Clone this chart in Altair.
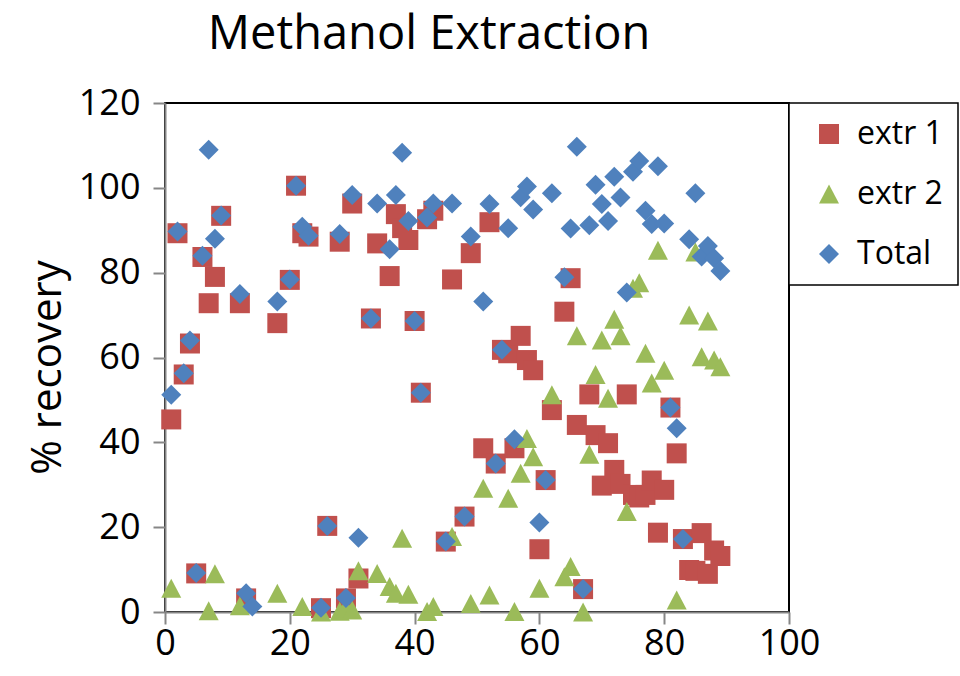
import altair as alt
import pandas as pd

# Recovery (%) per sample number, one set of arrays per series
extr1_x = [1, 2, 3, 4, 5, 6, 7, 8, 9, 12, 13, 18, 20, 21, 22, 23, 25, 26, 28, 29, 30, 31,
           33, 34, 36, 37, 38, 39, 40, 41, 42, 43, 45, 46, 48, 49, 51, 52, 53, 54, 55, 56,
           57, 58, 59, 60, 61, 62, 64, 65, 66, 67, 68, 69, 70, 71, 72, 73, 74, 75, 76, 77,
           78, 79, 80, 81, 82, 83, 84, 85, 86, 87, 88, 89]
extr1_y = [45.4, 89.3, 56.0, 63.3, 9.1, 83.7, 72.8, 79.0, 93.4, 72.8, 3.2, 68.1, 78.3, 100.5,
           89.3, 88.5, 0.9, 20.3, 87.3, 3.2, 96.3, 7.9, 69.2, 86.9, 79.2, 93.8, 90.5, 87.7,
           68.6, 51.7, 92.6, 94.6, 16.6, 78.4, 22.5, 84.6, 38.6, 91.9, 35.0, 61.8, 61.0, 38.6,
           65.1, 59.4, 57.0, 14.8, 31.1, 47.6, 70.8, 78.7, 44.1, 5.4, 51.3, 41.7, 29.8, 39.8,
           33.5, 30.2, 51.3, 27.6, 27.0, 27.6, 31.0, 18.7, 28.8, 48.2, 37.4, 17.2, 9.9, 9.7,
           18.6, 9.0, 14.5, 13.2]

extr2_x = [1, 7, 8, 12, 18, 22, 25, 28, 29, 30, 31, 34, 36, 37, 38, 39, 42, 43, 46, 49, 51,
           52, 55, 56, 57, 58, 59, 60, 62, 64, 65, 66, 67, 68, 69, 70, 71, 72, 73, 74, 75, 76,
           77, 78, 79, 80, 82, 84, 85, 86, 87, 88, 89]
extr2_y = [5.6, 0.3, 9.0, 1.5, 4.4, 1.3, 0.0, 0.2, 1.0, 0.5, 9.7, 9.1, 6.0, 4.4, 17.4, 4.2,
           0.1, 1.3, 17.8, 2.0, 29.2, 4.0, 26.8, 0.1, 32.7, 40.9, 36.6, 5.6, 51.2, 8.3, 10.7,
           65.1, 0.0, 37.2, 56.0, 64.1, 50.4, 69.0, 65.1, 23.7, 76.3, 77.6, 61.0, 54.0, 85.3,
           57.0, 2.8, 70.0, 84.9, 60.2, 68.6, 59.4, 57.8]

total_x = [1, 2, 3, 4, 5, 6, 7, 8, 9, 12, 13, 14, 18, 20, 21, 22, 23, 25, 26, 28, 29, 30, 31,
           33, 34, 36, 37, 38, 39, 40, 41, 42, 43, 45, 46, 48, 49, 51, 52, 53, 54, 55, 56, 57,
           58, 59, 60, 61, 62, 64, 65, 66, 67, 68, 69, 70, 71, 72, 73, 74, 75, 76, 77, 78, 79,
           80, 81, 82, 83, 84, 85, 86, 87, 88, 89]
total_y = [51.2, 89.7, 56.3, 64.0, 9.2, 84.0, 109.0, 88.0, 93.5, 75.0, 4.4, 1.3, 73.2, 78.4,
           100.5, 90.8, 88.7, 1.0, 20.3, 89.1, 3.3, 98.3, 17.5, 69.2, 96.3, 85.5, 98.3, 108.3,
           92.2, 68.6, 51.7, 93.0, 96.3, 16.6, 96.3, 22.5, 88.5, 73.2, 96.2, 35.0, 61.8, 90.5,
           40.7, 97.8, 100.3, 94.9, 21.1, 31.1, 98.7, 78.9, 90.4, 109.7, 5.4, 91.2, 100.7,
           96.2, 92.2, 102.6, 97.7, 75.3, 103.8, 106.3, 94.6, 91.5, 105.1, 91.6, 48.2, 43.3,
           17.2, 87.9, 98.7, 83.8, 86.3, 83.4, 80.4]

series_names = ["\u00a0extr 1", "extr 2", "Total"]
series_colors = ["#C0504D", "#9BBB59", "#4F81BD"]
series_shapes = ["square", "M0,-0.95L1,0.95L-1,0.95Z", "diamond"]

x_ticks = [0, 20, 40, 60, 80, 100]
y_ticks = [0, 20, 40, 60, 80, 100, 120]

# long table, drawn in series order so the Total diamonds sit on top
frames = []
for name, xs, ys in zip(series_names, [extr1_x, extr2_x, total_x], [extr1_y, extr2_y, total_y]):
    frames.append(pd.DataFrame({"series": name, "sample": xs, "recovery": ys}))
df = pd.concat(frames, ignore_index=True)

FONT = "Open Sans"
AXIS_GREY = "#868686"

legend = alt.Legend(
    title=None,
    orient="none",
    legendX=624,
    legendY=0,
    padding=15,
    symbolOffset=9,
    symbolSize=400,
    symbolStrokeWidth=0,
    labelFont=FONT,
    labelFontSize=32,
    labelColor="black",
    labelOffset=12,
    rowPadding=28,
    strokeColor="black",
    fillColor="white",
)

chart = (
    alt.Chart(df)
    .mark_point(filled=True, opacity=1, size=400, strokeWidth=0)
    .encode(
        x=alt.X(
            "sample:Q",
            scale=alt.Scale(domain=[0, 100], nice=False, zero=False),
            axis=alt.Axis(
                values=x_ticks,
                title=None,
                grid=False,
                domainColor=AXIS_GREY,
                domainWidth=2,
                tickColor=AXIS_GREY,
                tickWidth=2,
                tickSize=12,
                labelFont=FONT,
                labelFontSize=36,
                labelColor="black",
                labelPadding=2,
                labelFlush=False,
            ),
        ),
        y=alt.Y(
            "recovery:Q",
            scale=alt.Scale(domain=[0, 120], nice=False),
            axis=alt.Axis(
                values=y_ticks,
                title="% recovery",
                titleFont=FONT,
                titleFontSize=42,
                titleFontWeight="normal",
                titleColor="black",
                titleAngle=270,
                titleAlign="center",
                titleBaseline="alphabetic",
                titleX=-105,
                titleY=264,
                grid=False,
                domainColor=AXIS_GREY,
                domainWidth=2,
                tickColor=AXIS_GREY,
                tickWidth=2,
                tickSize=12,
                labelFont=FONT,
                labelFontSize=36,
                labelColor="black",
                labelPadding=13,
                labelFlush=False,
            ),
        ),
        color=alt.Color(
            "series:N",
            scale=alt.Scale(domain=series_names, range=series_colors),
            legend=legend,
        ),
        shape=alt.Shape(
            "series:N",
            scale=alt.Scale(domain=series_names, range=series_shapes),
            legend=legend,
        ),
    )
    .properties(
        width=624,
        height=509,
        title=alt.TitleParams(
            "Methanol Extraction",
            font=FONT,
            fontSize=47,
            fontWeight="normal",
            color="black",
            anchor="middle",
            frame="group",
            baseline="alphabetic",
            dx=-48,
            dy=31,
            offset=20,
        ),
        autosize=alt.AutoSizeParams(type="none"),
        padding={"left": 165, "top": 103, "right": 171, "bottom": 64},
        background="white",
    )
    .configure_view(stroke="black", strokeWidth=2)
    .configure_legend(strokeWidth=1.5)
)

chart.save("out.html", embed_options={"renderer": "svg", "actions": False})
